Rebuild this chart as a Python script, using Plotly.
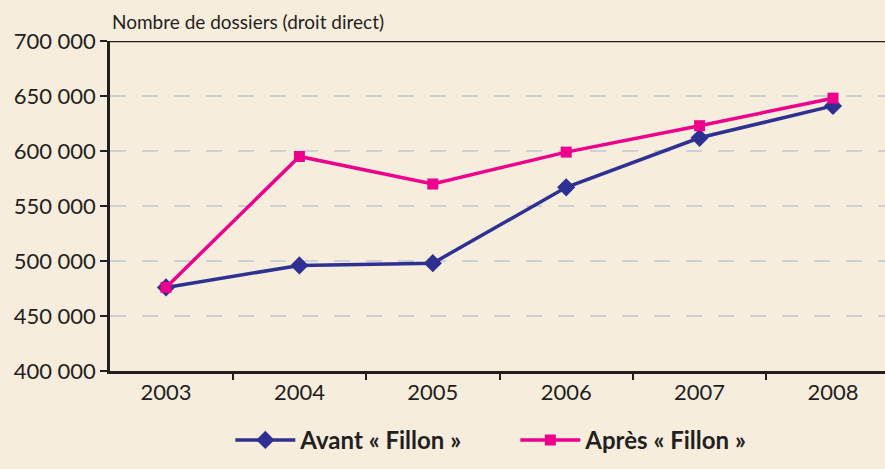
import plotly.graph_objects as go

years = ["2003", "2004", "2005", "2006", "2007", "2008"]
avant = [476000, 496000, 498000, 567000, 612000, 641000]
apres = [476000, 595000, 570000, 599000, 623000, 648000]
y_ticks = [400000, 450000, 500000, 550000, 600000, 650000, 700000]
y_tick_labels = ["400 000", "450 000", "500 000", "550 000", "600 000", "650 000", "700 000"]

FONT = "Lato, 'DejaVu Sans', sans-serif"
TXT = "#231F20"

fig = go.Figure()
fig.add_trace(go.Scatter(
    x=years, y=avant, mode="lines+markers", name="Avant « Fillon »",
    line=dict(color="#2E3192", width=3.5),
    marker=dict(symbol="diamond", size=14, color="#2E3192"),
))
fig.add_trace(go.Scatter(
    x=years, y=apres, mode="lines+markers", name="Après « Fillon »",
    line=dict(color="#EC008C", width=3.5),
    marker=dict(symbol="square", size=11, color="#EC008C"),
))

fig.update_layout(
    width=885, height=469,
    margin=dict(l=110, r=0, t=41, b=98),
    paper_bgcolor="#F6EDDD",
    plot_bgcolor="rgba(0,0,0,0)",
    font=dict(family=FONT, color=TXT),
    showlegend=True,
    legend=dict(
        orientation="h", x=0.523, xanchor="center", y=-0.21, yanchor="middle",
        font=dict(size=24, family=FONT, weight="bold", color=TXT),
        bgcolor="rgba(0,0,0,0)", itemwidth=60, entrywidth=210,
    ),
    xaxis=dict(
        type="category", range=[-0.42, 5.39],
        showline=True, linecolor=TXT, linewidth=2.5,
        ticks="outside", tickson="boundaries", ticklen=6, tickwidth=2, tickcolor=TXT,
        showgrid=False, tickfont=dict(size=22, color=TXT), zeroline=False,
    ),
    yaxis=dict(
        range=[400000, 700000], tickvals=y_ticks, ticktext=y_tick_labels,
        showline=True, linecolor=TXT, linewidth=2.5,
        ticks="outside", ticklen=7, tickwidth=2, tickcolor=TXT,
        showgrid=True, gridcolor="#CFD0D6", gridwidth=1.5, griddash="16px,16px",
        tickfont=dict(size=22, color=TXT), zeroline=False,
    ),
    annotations=[dict(
        text="Nombre de dossiers (droit direct)", xref="paper", yref="paper",
        x=0, y=1, xanchor="left", yanchor="bottom", yshift=6, showarrow=False,
        font=dict(size=19, color=TXT, family=FONT),
    )],
    shapes=[dict(type="line", xref="paper", yref="y", x0=0, x1=1, y0=700000, y1=700000,
                 line=dict(color=TXT, width=2.5))],
)

fig.write_html("out.html", config={"displayModeBar": False},
               post_script="document.body.style.margin='0';")
